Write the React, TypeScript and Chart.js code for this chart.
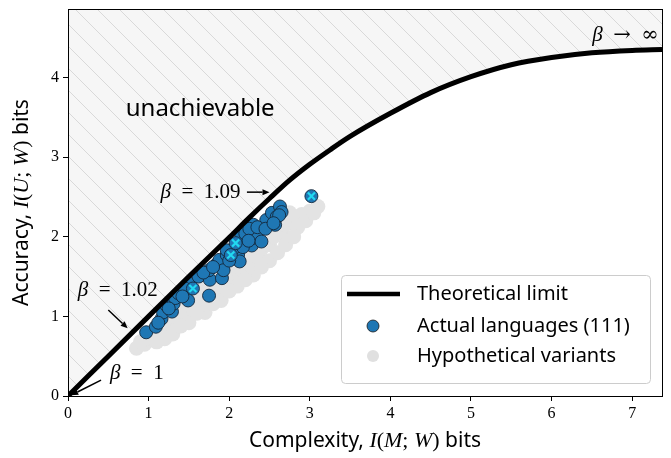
import React, { useEffect, useRef } from "react";
import { Chart, registerables } from "chart.js";

Chart.register(...registerables);

// ---------- data ----------
const limitX = [0, 0.5, 1, 1.5, 2, 2.25, 2.5, 2.75, 3.0, 3.25, 3.5, 4, 4.5, 5, 5.5, 6, 6.5, 7, 7.37];
const limitY = [0, 0.5, 1, 1.5, 1.99, 2.24, 2.48, 2.71, 2.91, 3.09, 3.26, 3.55, 3.81, 4.01, 4.16, 4.25, 4.31, 4.34, 4.35];

const langX = [0.97, 1.09, 1.16, 1.18, 1.22, 1.29, 1.31, 1.33, 1.37, 1.49, 1.51, 1.45, 1.62, 1.75, 1.76, 1.75, 1.68,
  1.85, 1.91, 1.88, 1.93, 1.97, 2.11, 2.05, 2.15, 2.15, 2.20, 2.28, 2.28, 2.30, 2.34, 2.40, 2.46, 2.53, 2.57, 2.59,
  2.63, 2.65, 2.62, 2.13, 2.17, 1.97, 1.80, 1.42, 1.25, 1.12, 2.25, 2.35, 2.00, 2.24, 2.45, 2.55, 1.55, 2.02, 2.08, 3.02];
const langY = [0.80, 0.87, 0.97, 1.05, 1.14, 1.06, 1.16, 1.23, 1.29, 1.20, 1.41, 1.35, 1.50, 1.26, 1.46, 1.58, 1.55,
  1.66, 1.48, 1.71, 1.58, 1.77, 1.77, 1.85, 1.92, 2.02, 2.04, 1.89, 1.98, 2.15, 2.04, 1.94, 2.21, 2.30, 2.15, 2.25,
  2.38, 2.31, 2.27, 1.69, 1.87, 1.83, 1.62, 1.25, 1.10, 0.92, 2.10, 2.12, 1.70, 1.95, 2.10, 2.17, 1.35, 1.77, 1.92, 2.51];

const markedX = [1.55, 2.02, 2.08, 3.02];
const markedY = [1.35, 1.77, 1.92, 2.51];

const hypoX = [0.85, 0.95, 1.05, 1.0, 1.15, 1.25, 1.2, 1.35, 1.45, 1.4, 1.55, 1.65, 1.6, 1.75, 1.85, 1.8, 1.95, 2.05,
  2.0, 2.15, 2.25, 2.2, 2.35, 2.4, 2.3, 2.5, 2.55, 2.45, 2.65, 2.7, 2.6, 2.8, 2.9, 3.0, 3.1, 2.75, 1.1, 1.3, 1.5, 1.7,
  1.9, 2.1, 2.3, 2.5, 2.7, 0.9, 1.08, 1.28, 1.48, 1.68, 1.88, 2.08, 2.28, 2.48, 2.68, 2.85, 2.95, 3.05,
  1.2, 1.4, 1.6, 1.8, 2.0, 2.2, 2.4, 2.6, 2.8];
const hypoY = [0.60, 0.65, 0.72, 0.80, 0.80, 0.85, 0.95, 0.95, 1.0, 1.1, 1.1, 1.15, 1.25, 1.25, 1.3, 1.4, 1.45, 1.5,
  1.6, 1.6, 1.65, 1.75, 1.75, 1.85, 1.9, 1.9, 2.0, 2.05, 2.05, 2.15, 2.2, 2.2, 2.28, 2.32, 2.38, 2.3, 0.68, 0.78, 0.92,
  1.05, 1.2, 1.38, 1.52, 1.7, 1.9, 0.68, 0.82, 1.0, 1.18, 1.36, 1.54, 1.72, 1.88, 2.02, 2.2, 2.12, 2.2, 2.3,
  0.72, 0.88, 1.04, 1.16, 1.32, 1.46, 1.62, 1.8, 2.0];

const xTicks = [0, 1, 2, 3, 4, 5, 6, 7];
const yTicks = [0, 1, 2, 3, 4];

const SANS = "'Noto Sans'";
const SERIF = "'Liberation Serif'";

type Seg = { t: string; f: string };

function richWidth(ctx: CanvasRenderingContext2D, segs: Seg[]) {
  let w = 0;
  for (const s of segs) {
    ctx.font = s.f;
    w += ctx.measureText(s.t).width;
  }
  return w;
}
function drawRich(ctx: CanvasRenderingContext2D, segs: Seg[], x: number, y: number, align: "left" | "center" | "right") {
  const w = richWidth(ctx, segs);
  let cx = align === "left" ? x : align === "center" ? x - w / 2 : x - w;
  ctx.textAlign = "left";
  ctx.textBaseline = "middle";
  for (const s of segs) {
    ctx.font = s.f;
    ctx.fillText(s.t, cx, y);
    cx += ctx.measureText(s.t).width;
  }
}
function arrow(ctx: CanvasRenderingContext2D, x1: number, y1: number, x2: number, y2: number) {
  const ang = Math.atan2(y2 - y1, x2 - x1);
  const hl = 7, hw = 3;
  ctx.strokeStyle = "#000";
  ctx.fillStyle = "#000";
  ctx.lineWidth = 1.5;
  ctx.beginPath();
  ctx.moveTo(x1, y1);
  ctx.lineTo(x2 - Math.cos(ang) * hl, y2 - Math.sin(ang) * hl);
  ctx.stroke();
  ctx.beginPath();
  ctx.moveTo(x2, y2);
  ctx.lineTo(x2 - Math.cos(ang) * hl - Math.sin(ang) * hw, y2 - Math.sin(ang) * hl + Math.cos(ang) * hw);
  ctx.lineTo(x2 - Math.cos(ang) * hl + Math.sin(ang) * hw, y2 - Math.sin(ang) * hl - Math.cos(ang) * hw);
  ctx.closePath();
  ctx.fill();
}

function makePattern(): CanvasPattern | string {
  const s = 22;
  const c = document.createElement("canvas");
  c.width = s;
  c.height = s;
  const g = c.getContext("2d");
  if (!g) return "#f6f6f6";
  g.fillStyle = "#f6f6f6";
  g.fillRect(0, 0, s, s);
  g.strokeStyle = "#d9d9d9";
  g.lineWidth = 1;
  for (const o of [-s, 0, s]) {
    g.beginPath();
    g.moveTo(o, 0);
    g.lineTo(o + s, s);
    g.stroke();
  }
  return g.createPattern(c, "repeat") || "#f6f6f6";
}

const SP = "\u2002";

const overlay = {
  id: "overlay",
  afterDraw(chart: any) {
    const ctx: CanvasRenderingContext2D = chart.ctx;
    const xs = chart.scales.x;
    const ys = chart.scales.y;
    const a = chart.chartArea;
    const px = (v: number) => xs.getPixelForValue(v);
    const py = (v: number) => ys.getPixelForValue(v);
    ctx.save();
    // frame
    ctx.strokeStyle = "#000";
    ctx.lineWidth = 1;
    ctx.strokeRect(Math.round(a.left) + 0.5, Math.round(a.top) + 0.5, Math.round(a.right - a.left), Math.round(a.bottom - a.top));

    ctx.fillStyle = "#000";
    // unachievable
    ctx.font = `24px ${SANS}`;
    ctx.textAlign = "center";
    ctx.textBaseline = "middle";
    ctx.fillText("unachievable", px(1.64), py(3.6));

    const mathF = `21px ${SERIF}`;
    const betaF = `italic 21px ${SERIF}`;
    // beta labels
    drawRich(ctx, [{ t: "β", f: betaF }, { t: SP + "=" + SP + "1.09", f: mathF }], px(2.14), py(2.55), "right");
    arrow(ctx, px(2.22), py(2.56), px(2.5), py(2.56));
    drawRich(ctx, [{ t: "β", f: betaF }, { t: SP + "=" + SP + "1.02", f: mathF }], px(0.12), py(1.33), "left");
    arrow(ctx, px(0.5), py(1.08), px(0.74), py(0.85));
    drawRich(ctx, [{ t: "β", f: betaF }, { t: SP + "=" + SP + "1", f: mathF }], px(0.52), py(0.28), "left");
    arrow(ctx, px(0.41), py(0.2), px(0.04), py(0.01));
    drawRich(ctx, [{ t: "β", f: betaF }, { t: SP + "→" + SP + "∞", f: `21px 'DejaVu Serif'` }], px(7.33), py(4.53), "right");

    // axis titles
    const tF = `21px ${SANS}`;
    const iF = `italic 22px ${SERIF}`;
    const rF = `22px ${SERIF}`;
    drawRich(ctx, [
      { t: "Complexity, ", f: tF }, { t: "I", f: iF }, { t: "(", f: rF }, { t: "M", f: iF }, { t: "; ", f: rF },
      { t: "W", f: iF }, { t: ")", f: rF }, { t: " bits", f: tF },
    ], (a.left + a.right) / 2, 441, "center");
    ctx.save();
    ctx.translate(22, (a.top + a.bottom) / 2);
    ctx.rotate(-Math.PI / 2);
    drawRich(ctx, [
      { t: "Accuracy, ", f: tF }, { t: "I", f: iF }, { t: "(", f: rF }, { t: "U", f: iF }, { t: "; ", f: rF },
      { t: "W", f: iF }, { t: ")", f: rF }, { t: " bits", f: tF },
    ], 0, 0, "center");
    ctx.restore();

    // legend
    const lw = 309, lh = 108;
    const lx = a.right - 12 - lw, ly = a.bottom - 13 - lh;
    ctx.fillStyle = "rgba(255,255,255,0.85)";
    ctx.strokeStyle = "#cccccc";
    ctx.lineWidth = 1;
    ctx.beginPath();
    (ctx as any).roundRect(lx + 0.5, ly + 0.5, lw, lh, 4);
    ctx.fill();
    ctx.stroke();
    const rows = [ly + 19, ly + 51, ly + 81];
    ctx.strokeStyle = "#000";
    ctx.lineWidth = 4.5;
    ctx.beginPath();
    ctx.moveTo(lx + 6, rows[0]);
    ctx.lineTo(lx + 59, rows[0]);
    ctx.stroke();
    ctx.fillStyle = "#1f77b4";
    ctx.strokeStyle = "#1a1a1a";
    ctx.lineWidth = 0.8;
    ctx.beginPath();
    ctx.arc(lx + 32, rows[1], 6, 0, Math.PI * 2);
    ctx.fill();
    ctx.stroke();
    ctx.fillStyle = "#e0e0e0";
    ctx.beginPath();
    ctx.arc(lx + 32, rows[2], 6, 0, Math.PI * 2);
    ctx.fill();
    ctx.fillStyle = "#000";
    ctx.font = `20px ${SANS}`;
    ctx.textAlign = "left";
    ctx.textBaseline = "middle";
    ctx.fillText("Theoretical limit", lx + 76, rows[0]);
    ctx.fillText("Actual languages (111)", lx + 76, rows[1]);
    ctx.fillText("Hypothetical variants", lx + 76, rows[2]);
    ctx.restore();
  },
};

export default function App() {
  const ref = useRef<HTMLCanvasElement | null>(null);
  useEffect(() => {
    if (!ref.current) return;
    document.body.style.margin = "0";
    const pattern = makePattern();
    const chart = new Chart(ref.current, {
      type: "scatter",
      data: {
        datasets: [
          {
            label: "Theoretical limit",
            data: limitX.map((x, i) => ({ x, y: limitY[i] })),
            showLine: true,
            borderColor: "#000",
            borderWidth: 5,
            pointRadius: 0,
            cubicInterpolationMode: "monotone",
            fill: "end",
            backgroundColor: pattern as any,
            order: 0,
          } as any,
          {
            label: "marked",
            data: markedX.map((x, i) => ({ x, y: markedY[i] })),
            pointStyle: "crossRot",
            pointRadius: 5,
            borderColor: "#22d8f0",
            borderWidth: 2.2,
            order: 1,
          },
          {
            label: "Actual languages (111)",
            data: langX.map((x, i) => ({ x, y: langY[i] })),
            pointRadius: 6.5,
            backgroundColor: "#1f77b4",
            borderColor: "#14283c",
            borderWidth: 0.9,
            order: 2,
          },
          {
            label: "Hypothetical variants",
            data: hypoX.map((x, i) => ({ x, y: hypoY[i] })),
            pointRadius: 7.5,
            backgroundColor: "#e3e3e3",
            borderWidth: 0,
            order: 3,
          },
        ],
      },
      options: {
        animation: false,
        responsive: false,
        events: [],
        layout: { padding: { top: 9, right: 9, left: 0, bottom: 0 } },
        plugins: { legend: { display: false }, tooltip: { enabled: false } },
        scales: {
          x: {
            type: "linear",
            min: 0,
            max: 7.37,
            afterBuildTicks: (s: any) => { s.ticks = xTicks.map((v) => ({ value: v })); },
            afterFit: (s: any) => { s.height = 62; s.paddingLeft = 0; s.paddingRight = 0; },
            grid: { drawOnChartArea: false, drawTicks: true, tickLength: 5, color: "#000" },
            border: { display: true, color: "#000" },
            ticks: { color: "#000", font: { family: "Liberation Serif", size: 16 }, padding: 3, maxRotation: 0 },
          },
          y: {
            type: "linear",
            min: 0,
            max: 4.86,
            afterBuildTicks: (s: any) => { s.ticks = yTicks.map((v) => ({ value: v })); },
            afterFit: (s: any) => { s.width = 68; s.paddingTop = 0; s.paddingBottom = 0; },
            grid: { drawOnChartArea: false, drawTicks: true, tickLength: 5, color: "#000" },
            border: { display: true, color: "#000" },
            ticks: { color: "#000", font: { family: "Liberation Serif", size: 16 }, padding: 4 },
          },
        },
      },
      plugins: [overlay],
    });
    return () => chart.destroy();
  }, []);
  return (
    <div style={{ position: "fixed", left: 0, top: 0, width: 671, height: 458, background: "#fff" }}>
      <canvas ref={ref} width={671} height={458} style={{ width: 671, height: 458 }} />
    </div>
  );
}
